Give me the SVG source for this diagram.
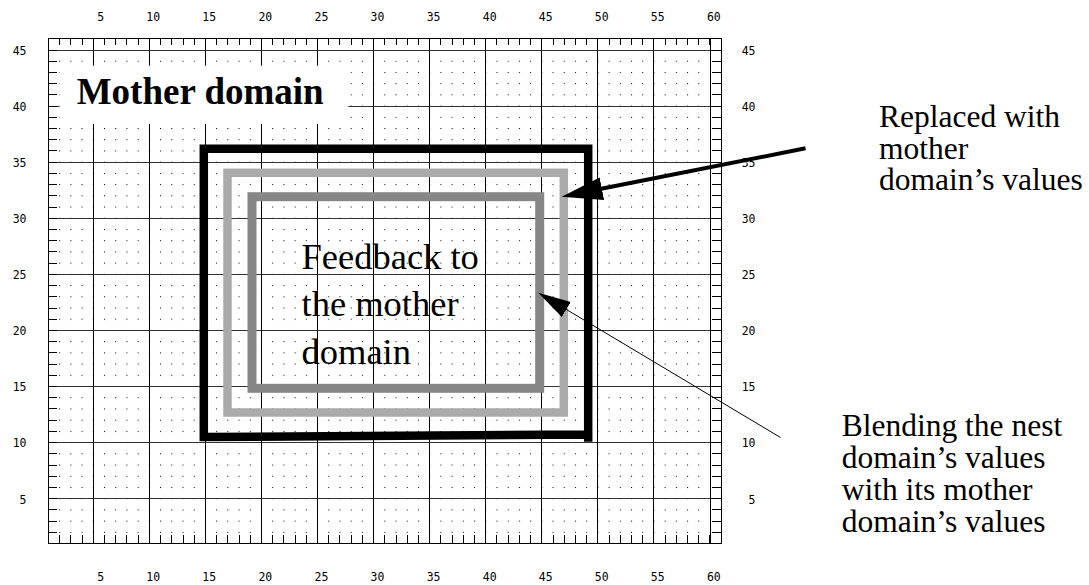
<svg xmlns="http://www.w3.org/2000/svg" width="1089" height="585" viewBox="0 0 1089 585">
<style>
.axis{font-family:"DejaVu Sans Mono","Liberation Mono",monospace;font-size:11.5px;fill:#000}
.lbl{font-family:"Liberation Serif","Times New Roman",serif;fill:#000}
.major-v{stroke:#000;stroke-width:1}
.major-h{stroke:#333;stroke-width:1}
.tick{fill:none;stroke:#000}
</style>
<defs>
<pattern id="dots" patternUnits="userSpaceOnUse" x="36.74" y="554.29" width="11.2127" height="11.2175">
<rect width="1" height="1" fill="#000"/>
</pattern>
<marker id="bigHead" viewBox="0 -12 42 24" markerWidth="42" markerHeight="24" refX="2" refY="0" orient="auto" markerUnits="userSpaceOnUse">
<path d="M0,-11.5 L41,0 L0,11.5 Z" fill="#000"/>
</marker>
<marker id="smallHead" viewBox="0 -9 34 18" markerWidth="34" markerHeight="18" refX="2" refY="0" orient="auto" markerUnits="userSpaceOnUse">
<path d="M0,-8.7 L32.6,0 L0,8.7 Z" fill="#000"/>
</marker>
</defs>
<rect width="1089" height="585" fill="#fff"/>
<g id="grid" shape-rendering="crispEdges">
<rect x="54.06" y="55.6" width="650.3" height="482.4" fill="url(#dots)"/>
<g class="major-h">
<line x1="48.45" y1="498.70" x2="721.21" y2="498.70"/>
<line x1="48.45" y1="442.62" x2="721.21" y2="442.62"/>
<line x1="48.45" y1="386.53" x2="721.21" y2="386.53"/>
<line x1="48.45" y1="330.44" x2="721.21" y2="330.44"/>
<line x1="48.45" y1="274.35" x2="721.21" y2="274.35"/>
<line x1="48.45" y1="218.27" x2="721.21" y2="218.27"/>
<line x1="48.45" y1="162.18" x2="721.21" y2="162.18"/>
<line x1="48.45" y1="106.09" x2="721.21" y2="106.09"/>
<line x1="48.45" y1="50.00" x2="721.21" y2="50.00"/>
</g>
<g class="major-v">
<line x1="93.30" y1="38.79" x2="93.30" y2="543.57"/>
<line x1="149.37" y1="38.79" x2="149.37" y2="543.57"/>
<line x1="205.43" y1="38.79" x2="205.43" y2="543.57"/>
<line x1="261.49" y1="38.79" x2="261.49" y2="543.57"/>
<line x1="317.56" y1="38.79" x2="317.56" y2="543.57"/>
<line x1="373.62" y1="38.79" x2="373.62" y2="543.57"/>
<line x1="429.68" y1="38.79" x2="429.68" y2="543.57"/>
<line x1="485.75" y1="38.79" x2="485.75" y2="543.57"/>
<line x1="541.81" y1="38.79" x2="541.81" y2="543.57"/>
<line x1="597.88" y1="38.79" x2="597.88" y2="543.57"/>
<line x1="653.94" y1="38.79" x2="653.94" y2="543.57"/>
<line x1="710.00" y1="38.79" x2="710.00" y2="543.57"/>
</g>
<g class="tick">
<line x1="52.75" y1="544.07" x2="52.75" y2="38.3" stroke-width="8.5" stroke-dasharray="1 10.2175"/>
<line x1="716.5" y1="544.07" x2="716.5" y2="38.3" stroke-width="9.5" stroke-dasharray="1 10.2175"/>
<line x1="47.95" y1="42.05" x2="721.71" y2="42.05" stroke-width="6.5" stroke-dasharray="1 10.2127"/>
<line x1="47.95" y1="539.3" x2="721.71" y2="539.3" stroke-width="8.5" stroke-dasharray="1 10.2127"/>
</g>
<rect x="48.45" y="38.79" width="672.76" height="504.78" fill="none" stroke="#000" stroke-width="1"/>
</g>
<g id="axis-labels" class="axis">
<g text-anchor="end">
<text x="104.1" y="20.7">5</text><text x="160.2" y="20.7">10</text><text x="216.2" y="20.7">15</text><text x="272.3" y="20.7">20</text><text x="328.4" y="20.7">25</text><text x="384.4" y="20.7">30</text><text x="440.5" y="20.7">35</text><text x="496.6" y="20.7">40</text><text x="552.6" y="20.7">45</text><text x="608.7" y="20.7">50</text><text x="664.7" y="20.7">55</text><text x="720.8" y="20.7">60</text>
<text x="104.1" y="580.7">5</text><text x="160.2" y="580.7">10</text><text x="216.2" y="580.7">15</text><text x="272.3" y="580.7">20</text><text x="328.4" y="580.7">25</text><text x="384.4" y="580.7">30</text><text x="440.5" y="580.7">35</text><text x="496.6" y="580.7">40</text><text x="552.6" y="580.7">45</text><text x="608.7" y="580.7">50</text><text x="664.7" y="580.7">55</text><text x="720.8" y="580.7">60</text>
<text x="26.5" y="54.8">45</text><text x="26.5" y="110.9">40</text><text x="26.5" y="167">35</text><text x="26.5" y="223.1">30</text><text x="26.5" y="279.2">25</text><text x="26.5" y="335.2">20</text><text x="26.5" y="391.3">15</text><text x="26.5" y="447.4">10</text><text x="26.5" y="503.5">5</text>
<text x="755.5" y="54.8">45</text><text x="755.5" y="110.9">40</text><text x="755.5" y="167">35</text><text x="755.5" y="223.1">30</text><text x="755.5" y="279.2">25</text><text x="755.5" y="335.2">20</text><text x="755.5" y="391.3">15</text><text x="755.5" y="447.4">10</text><text x="755.5" y="503.5">5</text>
</g>
</g>
<g id="node-mother-label">
<rect x="59.5" y="65.7" width="288.8" height="58.3" fill="#fff"/>
<text class="lbl" x="76.7" y="104" font-size="37" font-weight="bold">Mother domain</text>
</g>
<g id="node-mother-boundary">
<path d="M588.2,441.7 V148.8 H203.8 V437 L588.2,434.5" fill="none" stroke="#000" stroke-width="8.5" stroke-linejoin="miter"/>
</g>
<g id="node-blending-zone">
<rect x="227.5" y="172.8" width="336.3" height="239.7" fill="none" stroke="#aaaaaa" stroke-width="8.5"/>
</g>
<g id="node-nest-domain">
<rect x="252" y="196.7" width="287.7" height="191.6" fill="none" stroke="#868686" stroke-width="9"/>
<text class="lbl" font-size="36.5"><tspan x="301.5" y="268.5">Feedback to</tspan><tspan x="301.5" y="316">the mother</tspan><tspan x="301.5" y="363.5">domain</tspan></text>
</g>
<g id="node-replaced-label">
<text class="lbl" font-size="31.5"><tspan x="879" y="127">Replaced with</tspan><tspan x="879" y="158.5">mother</tspan><tspan x="879" y="190">domain&#8217;s values</tspan></text>
</g>
<g id="node-blending-label">
<text class="lbl" font-size="31.5"><tspan x="841.7" y="436">Blending the nest</tspan><tspan x="841.7" y="468">domain&#8217;s values</tspan><tspan x="841.7" y="500">with its mother</tspan><tspan x="841.7" y="532">domain&#8217;s values</tspan></text>
</g>
<g id="connectors">
<line x1="805.5" y1="148.3" x2="599.95" y2="189.06" stroke="#000" stroke-width="4" marker-end="url(#bigHead)"/>
<line x1="780.5" y1="437.5" x2="564.56" y2="308.4" stroke="#000" stroke-width="1" marker-end="url(#smallHead)"/>
</g>
</svg>
